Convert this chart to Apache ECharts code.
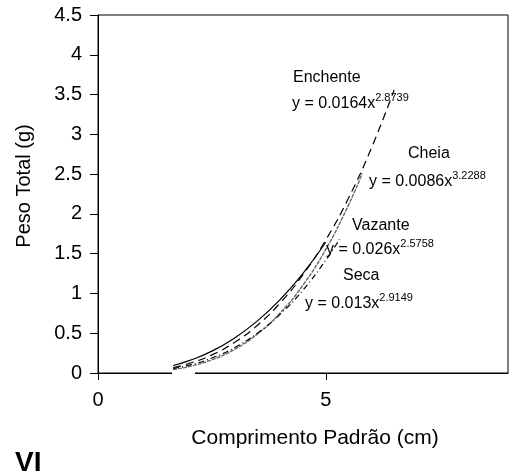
<!DOCTYPE html>
<html><head><meta charset="utf-8">
<script src="https://cdn.jsdelivr.net/npm/echarts@6/dist/echarts.min.js"></script>
<style>html,body{margin:0;padding:0;background:#fff}#c{width:516px;height:473px}</style>
</head><body><div id="c"></div>
<script>
const FONT = 'Liberation Sans, Arial, sans-serif';
const xEnchente = [1.65, 2, 2.5, 3, 3.5, 4, 4.5, 5, 5.5, 6, 6.5];
const yEnchente = [0.069, 0.120, 0.228, 0.386, 0.600, 0.881, 1.237, 1.673, 2.200, 2.826, 3.557];
const xCheia = [1.65, 2, 2.5, 3, 3.5, 4, 4.5, 5, 5.5, 5.8];
const yCheia = [0.043, 0.081, 0.166, 0.299, 0.491, 0.756, 1.105, 1.554, 2.113, 2.510];
const xVazante = [1.65, 2, 2.5, 3, 3.5, 4, 4.5, 5];
const yVazante = [0.094, 0.155, 0.275, 0.441, 0.655, 0.924, 1.252, 1.643];
const xSeca = [1.65, 2, 2.5, 3, 3.5, 4, 4.5, 5, 5.3];
const ySeca = [0.056, 0.098, 0.188, 0.320, 0.501, 0.740, 1.043, 1.418, 1.679];
const yTicks = [0, 0.5, 1, 1.5, 2, 2.5, 3, 3.5, 4, 4.5];
const xTicks = [0, 5];
const names = ['Enchente', 'Cheia', 'Vazante', 'Seca'];
const coefs = ['y = 0.0164x', 'y = 0.0086x', 'y = 0.026x', 'y = 0.013x'];
const exps = ['2.8739', '3.2288', '2.5758', '2.9149'];
const xTitle = 'Comprimento Padrão (cm)';
const yTitle = 'Peso Total (g)';

function pairs(xs, ys) { return xs.map((x, i) => [x, ys[i]]); }

const chart = echarts.init(document.getElementById('c'), null, {renderer: 'canvas'});
const labelPos = [
  {n: [293, 70], e: [292, 92]},
  {n: [408, 146], e: [369, 170]},
  {n: [352, 218], e: [326, 238]},
  {n: [343, 268], e: [305, 292]}
];
const graphics = [];
names.forEach((n, i) => {
  graphics.push({type: 'text', left: labelPos[i].n[0], top: labelPos[i].n[1], z: 100,
    style: {text: n, font: '16px ' + FONT, fill: '#000'}});
  graphics.push({type: 'text', left: labelPos[i].e[0], top: labelPos[i].e[1], z: 100,
    style: {text: '{a|' + coefs[i] + '}{s|' + exps[i] + '}', fill: '#000',
      rich: {a: {fontSize: 16, fontFamily: FONT, lineHeight: 20, verticalAlign: 'bottom'},
             s: {fontSize: 11, fontFamily: FONT, lineHeight: 20, verticalAlign: 'top'}}}});
});
graphics.push({type: 'rect', shape: {x: 172, y: 371, width: 23, height: 5}, style: {fill: '#fff'}, z: 50});
graphics.push({type: 'text', x: 315, y: 438, style: {text: xTitle, font: '21px ' + FONT, fill: '#000', align: 'center', verticalAlign: 'middle'}});
graphics.push({type: 'text', left: 15, top: 449, style: {text: 'VI', font: 'bold 28px ' + FONT, fill: '#000'}});

chart.setOption({
  animation: false,
  backgroundColor: '#fff',
  grid: {left: 98, top: 15, right: 8, bottom: 100, show: true, borderColor: '#000', borderWidth: 1},
  xAxis: {
    type: 'value', min: 0, max: 9, interval: 5,
    axisLine: {lineStyle: {color: '#000', width: 1}},
    axisTick: {show: true, length: 7, lineStyle: {color: '#000'}, customValues: xTicks},
    axisLabel: {fontSize: 20, fontFamily: FONT, color: '#000', margin: 17, customValues: xTicks},
    splitLine: {show: false}
  },
  yAxis: {
    type: 'value', min: 0, max: 4.5, interval: 0.5,
    name: yTitle, nameLocation: 'middle', nameGap: 64, nameRotate: 90,
    nameTextStyle: {fontSize: 20, fontFamily: FONT, color: '#000', padding: [0, 0, 0, 16]},
    axisLine: {show: true, lineStyle: {color: '#000', width: 1}},
    axisTick: {show: true, length: 8, lineStyle: {color: '#000'}},
    axisLabel: {fontSize: 20, fontFamily: FONT, color: '#000', margin: 16,
      formatter: v => yTicks.includes(v) ? String(v) : ''},
    splitLine: {show: false}
  },
  series: [
    {name: 'Enchente', type: 'line', data: pairs(xEnchente, yEnchente), smooth: true, showSymbol: false,
      lineStyle: {color: '#000', width: 1.2, type: [8, 5]}},
    {name: 'Cheia', type: 'line', data: pairs(xCheia, yCheia), smooth: true, showSymbol: false,
      lineStyle: {color: '#666', width: 1.4, type: [4, 1]}},
    {name: 'Vazante', type: 'line', data: pairs(xVazante, yVazante), smooth: true, showSymbol: false,
      lineStyle: {color: '#000', width: 1.2, type: 'solid'}},
    {name: 'Seca', type: 'line', data: pairs(xSeca, ySeca), smooth: true, showSymbol: false,
      lineStyle: {color: '#000', width: 1.2, type: [6, 3, 1, 3]}}
  ],
  graphic: graphics
});
</script>
</body></html>
